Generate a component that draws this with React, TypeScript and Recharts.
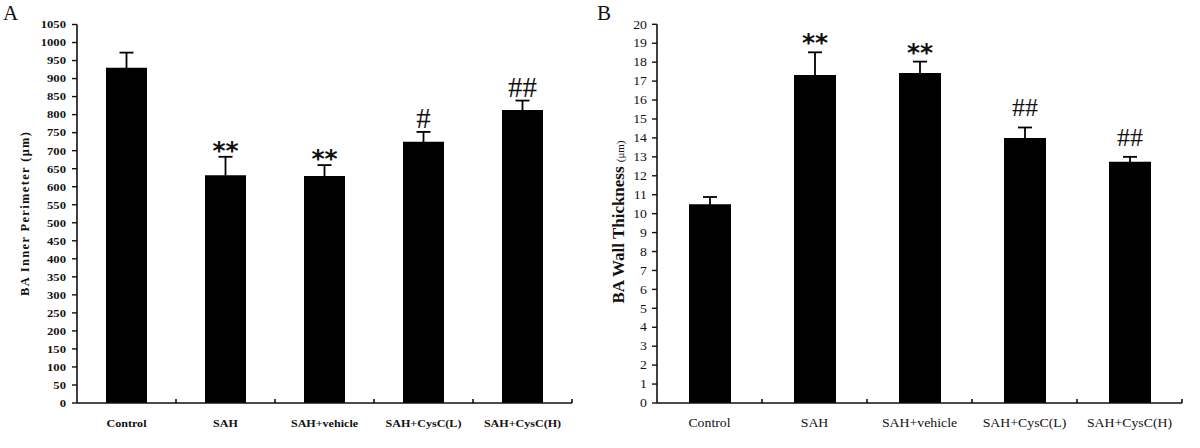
import React from "react";
import { BarChart, Bar, XAxis, YAxis, ErrorBar, LabelList } from "recharts";

const categories = ["Control", "SAH", "SAH+vehicle", "SAH+CysC(L)", "SAH+CysC(H)"];
const perimeter = [930, 632, 630, 725, 813];
const perimeterErr = [42, 51, 30, 27, 26];
const perimeterSig = ["", "**", "**", "#", "##"];
const perimeterTicks = [0, 50, 100, 150, 200, 250, 300, 350, 400, 450, 500, 550, 600, 650, 700, 750, 800, 850, 900, 950, 1000, 1050];

const thickness = [10.5, 17.32, 17.43, 13.99, 12.74];
const thicknessErr = [0.38, 1.2, 0.6, 0.56, 0.26];
const thicknessSig = ["", "**", "**", "##", "##"];
const thicknessTicks = [0, 1, 2, 3, 4, 5, 6, 7, 8, 9, 10, 11, 12, 13, 14, 15, 16, 17, 18, 19, 20];

const SERIF = '"Liberation Serif", "Times New Roman", serif';
const SANS = '"DejaVu Sans", "Liberation Sans", Arial, sans-serif';

const dataA = categories.map((c, i) => ({ name: c, value: perimeter[i], err: perimeterErr[i], sig: perimeterSig[i] }));
const dataB = categories.map((c, i) => ({ name: c, value: thickness[i], err: thicknessErr[i], sig: thicknessSig[i] }));

type PanelCfg = {
  data: any[];
  ticks: number[];
  domainMax: number;
  width: number;
  yAxisWidth: number;
  marginRight: number;
  marginTop: number;
  barSize: number;
  capWidth: number;
  yTickFont: number;
  yTickWeight: string;
  yTickMargin: number;
  xTickFont: number;
  xTickWeight: string;
  starFont: number;
  starOffset: number;
  hashFont: number;
  hashOffset: number;
  yLabel: (vb: any) => React.ReactNode;
};

function makeXTick(band: number, cfg: PanelCfg) {
  return (props: any) => {
    const { x, y, payload } = props;
    return (
      <g>
        <line x1={x + band / 2} x2={x + band / 2} y1={y} y2={y - 4} stroke="#000" strokeWidth={1.5} />
        <text
          transform={`translate(${x},${y + 24}) scale(1.15,1)`}
          textAnchor="middle"
          fontFamily={SERIF}
          fontWeight={cfg.xTickWeight}
          fontSize={cfg.xTickFont}
          fill="#111"
        >
          {payload.value}
        </text>
      </g>
    );
  };
}

function makeYTick(cfg: PanelCfg) {
  return (props: any) => {
    const { x, y, payload } = props;
    return (
      <text
        transform={`translate(${x},${y}) scale(1.15,1)`}
        textAnchor="end"
        dy="0.35em"
        fontFamily={SERIF}
        fontWeight={cfg.yTickWeight}
        fontSize={cfg.yTickFont}
        fill="#111"
      >
        {payload.value}
      </text>
    );
  };
}

function makeSigLabel(cfg: PanelCfg) {
  return (props: any) => {
    const { x, y, width, height, index } = props;
    const d = cfg.data[index];
    if (!d || !d.sig) return null;
    const errPx = (d.err * height) / d.value;
    const top = y - errPx;
    const isStar = d.sig.indexOf("*") >= 0;
    return (
      <text
        x={x + width / 2}
        y={top + (isStar ? cfg.starOffset : cfg.hashOffset)}
        textAnchor="middle"
        fontFamily={isStar ? SANS : SERIF}
        fontWeight={isStar ? "bold" : "normal"}
        fontSize={isStar ? cfg.starFont : cfg.hashFont}
        fill="#111"
      >
        {d.sig}
      </text>
    );
  };
}

function Panel({ cfg }: { cfg: PanelCfg }) {
  const height = 448;
  const xAxisHeight = 45;
  const plotWidth = cfg.width - cfg.yAxisWidth - cfg.marginRight;
  const band = plotWidth / categories.length;
  return (
    <BarChart
      width={cfg.width}
      height={height}
      data={cfg.data}
      margin={{ top: cfg.marginTop, right: cfg.marginRight, left: 0, bottom: 0 }}
      barSize={cfg.barSize}
    >
      <XAxis
        dataKey="name"
        height={xAxisHeight}
        tickSize={0}
        tickMargin={0}
        tickLine={false}
        interval={0}
        axisLine={{ stroke: "#111", strokeWidth: 1.6 }}
        tick={makeXTick(band, cfg)}
      />
      <YAxis
        width={cfg.yAxisWidth}
        domain={[0, cfg.domainMax]}
        ticks={cfg.ticks}
        interval={0}
        tickSize={5}
        tickMargin={cfg.yTickMargin}
        axisLine={{ stroke: "#111", strokeWidth: 1.6 }}
        tickLine={{ stroke: "#111", strokeWidth: 1.4 }}
        tick={makeYTick(cfg)}
        label={(p: any) => cfg.yLabel(p.viewBox)}
      />
      <Bar dataKey="value" fill="#000" isAnimationActive={false}>
        <ErrorBar dataKey="err" width={cfg.capWidth} stroke="#000" strokeWidth={1.8} direction="y" />
        <LabelList dataKey="sig" content={makeSigLabel(cfg)} />
      </Bar>
    </BarChart>
  );
}

const cfgA: PanelCfg = {
  data: dataA,
  ticks: perimeterTicks,
  domainMax: 1050,
  width: 600,
  yAxisWidth: 77,
  marginRight: 28,
  marginTop: 24.5,
  barSize: 41,
  capWidth: 7,
  yTickFont: 11,
  yTickWeight: "bold",
  yTickMargin: 6,
  xTickFont: 10.5,
  xTickWeight: "bold",
  starFont: 25,
  starOffset: 2,
  hashFont: 29,
  hashOffset: -4,
  yLabel: () => (
    <text
      transform="translate(29,214) rotate(-90)"
      textAnchor="middle"
      fontFamily={SERIF}
      fontWeight="bold"
      fontSize={12.5}
      textLength={164}
      lengthAdjust="spacing"
      fill="#111"
    >
      BA Inner Perimeter (μm)
    </text>
  ),
};

const cfgB: PanelCfg = {
  data: dataB,
  ticks: thicknessTicks,
  domainMax: 20,
  width: 600,
  yAxisWidth: 57,
  marginRight: 18,
  marginTop: 24.3,
  barSize: 42,
  capWidth: 7,
  yTickFont: 12,
  yTickWeight: "normal",
  yTickMargin: 5,
  xTickFont: 12,
  xTickWeight: "normal",
  starFont: 25,
  starOffset: -1,
  hashFont: 26,
  hashOffset: -11,
  yLabel: () => (
    <text
      transform="translate(24,222) rotate(-90)"
      textAnchor="middle"
      fontFamily={SERIF}
      fontWeight="bold"
      fontSize={17}
      textLength={163}
      lengthAdjust="spacing"
      fill="#111"
    >
      BA Wall Thickness <tspan fontSize={11} fontWeight="normal">(μm)</tspan>
    </text>
  ),
};

export default function App() {
  return (
    <div style={{ position: "absolute", left: 0, top: 0, width: 1200, height: 448, background: "#fff", overflow: "hidden" }}>
      <div style={{ position: "absolute", left: 0, top: 0 }}>
        <Panel cfg={cfgA} />
      </div>
      <div style={{ position: "absolute", left: 600, top: 0 }}>
        <Panel cfg={cfgB} />
      </div>
      <div style={{ position: "absolute", left: 3, top: 3, fontFamily: SERIF, fontSize: 21, lineHeight: "20px", color: "#111" }}>A</div>
      <div style={{ position: "absolute", left: 597, top: 3, fontFamily: SERIF, fontSize: 21, lineHeight: "20px", color: "#111" }}>B</div>
    </div>
  );
}
